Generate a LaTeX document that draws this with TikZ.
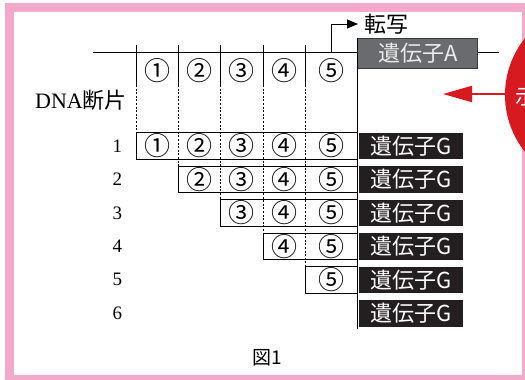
\documentclass[tikz,border=0pt]{standalone}
\usepackage{fontspec}
\setmainfont{Liberation Serif}
\newfontfamily\cjk{Noto Sans CJK JP}
\usetikzlibrary{arrows.meta}
\definecolor{framepink}{HTML}{F3A9CA}
\definecolor{redc}{HTML}{D71920}
\definecolor{boxgray}{HTML}{6A6B6E}
\definecolor{boxedge}{HTML}{3A3A3C}
\definecolor{geneblack}{HTML}{231F20}
\newcommand\circnum[1]{\ifcase#1\or ①\or ②\or ③\or ④\or ⑤\fi}
\begin{document}
\begin{tikzpicture}[x=1pt,y=-1pt,
  lineblk/.style={line width=0.9pt, black},
  guide/.style={line width=0.7pt, black, dash pattern=on 2pt off 1.6pt},
  rowbox/.style={line width=0.8pt, draw=black, fill=white},
  cnum/.style={font=\cjk\fontsize{26}{26}\selectfont, inner sep=0pt},
  serifl/.style={font=\fontsize{19}{19}\selectfont, inner sep=0pt},
  genebox/.style={fill=geneblack, text=white, minimum width=103.5pt, minimum height=26.6pt, inner sep=0pt,
     font=\cjk\fontsize{22}{22}\selectfont},
  geneA/.style={fill=boxgray, draw=boxedge, line width=0.8pt, text=white!92!black, minimum width=120pt, minimum height=30pt, inner sep=0pt,
     font=\cjk\fontsize{22}{22}\selectfont}
]
\useasboundingbox (0,0) rectangle (525,380);
% frame
\fill[framepink] (5,3) rectangle (525,380);
\fill[white] (14,11.7) rectangle (521.7,375);
% red circle at right
\begin{scope}
  \clip (0,0) rectangle (525,380);
  \fill[redc] (596,95) circle (91);
  \node[anchor=west, text=white, font=\cjk\fontsize{21}{21}\selectfont, inner sep=0pt] (shi) at (515.5,97) {示};
\end{scope}
\coordinate (rs) at (508,94);
\coordinate (rt) at (443,94);
\draw[redc, line width=2pt, -{Triangle[length=29pt,width=16pt]}] (rs) -- (rt);

% gene A box and main line
\node[geneA] (gA) at (417.7,53.3) {遺伝子A};
\coordinate (l0) at (92.7,52.7);
\coordinate (l1) at (357.7,52.7);
\coordinate (l2) at (477.7,52.7);
\coordinate (l3) at (499,52.7);
\draw[lineblk] (l0) -- (l1);
\draw[lineblk] (l2) -- (l3);
% transcription arrow
\coordinate (ts) at (331,52.7);
\node[anchor=west, font=\cjk\fontsize{22}{22}\selectfont, inner sep=0pt] (tensha) at (364,24) {転写};
\draw[lineblk, -{Triangle[length=11pt,width=9pt]}] (ts) |- ([xshift=-6pt]tensha.west);

% long vertical
\coordinate (v0) at (357.7,38.3);
\coordinate (v1) at (357.7,329);
\draw[lineblk] (v0) -- (v1);

% top row numbers
\foreach \j/\cx in {1/157.3,2/199.7,3/241.8,4/284.2,5/331.5}{
  \node[cnum] (t\j) at (\cx,71) {\circnum{\j}};
}
\node[anchor=west, inner sep=0pt] (dna) at (35,100) {\fontsize{22}{22}\selectfont DNA{\cjk 断片}};

% rows
\foreach \k/\ck in {1/136,2/178.7,3/220.7,4/263,5/305.3}{
  \pgfmathsetmacro\ytop{132.7+(\k-1)*33.45}
  \pgfmathsetmacro\ybot{\ytop+26.6}
  \draw[rowbox] (\ck,\ytop) rectangle (357.7,\ybot);
}
\foreach \j/\cx in {1/136,2/178.7,3/220.7,4/263,5/305.3}{
  \pgfmathsetmacro\ybot{132.7+(\j-1)*33.45+26.6}
  \draw[lineblk] (\cx,45) -- (\cx,85);
  \draw[guide] (\cx,85) -- (\cx,\ybot);
}
\foreach \k in {1,...,6}{
  \pgfmathsetmacro\ymid{132.7+(\k-1)*33.45+13.3}
  \node[serifl] (lab\k) at (117.3,\ymid) {\k};
  \node[genebox] (g\k) at (411.2,\ymid) {遺伝子G};
}
\foreach \k in {1,...,5}{
  \foreach \j/\cx in {1/157.3,2/199.7,3/241.8,4/284.2,5/331.5}{
    \ifnum\j<\k\else
      \pgfmathsetmacro\ymid{132.7+(\k-1)*33.45+13.3}
      \node[cnum] (n\k\j) at (\cx,\ymid) {\circnum{\j}};
    \fi
  }
}
\node[font=\cjk\fontsize{19}{19}\selectfont, inner sep=0pt] (cap) at (267,358) {図1};
\end{tikzpicture}
\end{document}
